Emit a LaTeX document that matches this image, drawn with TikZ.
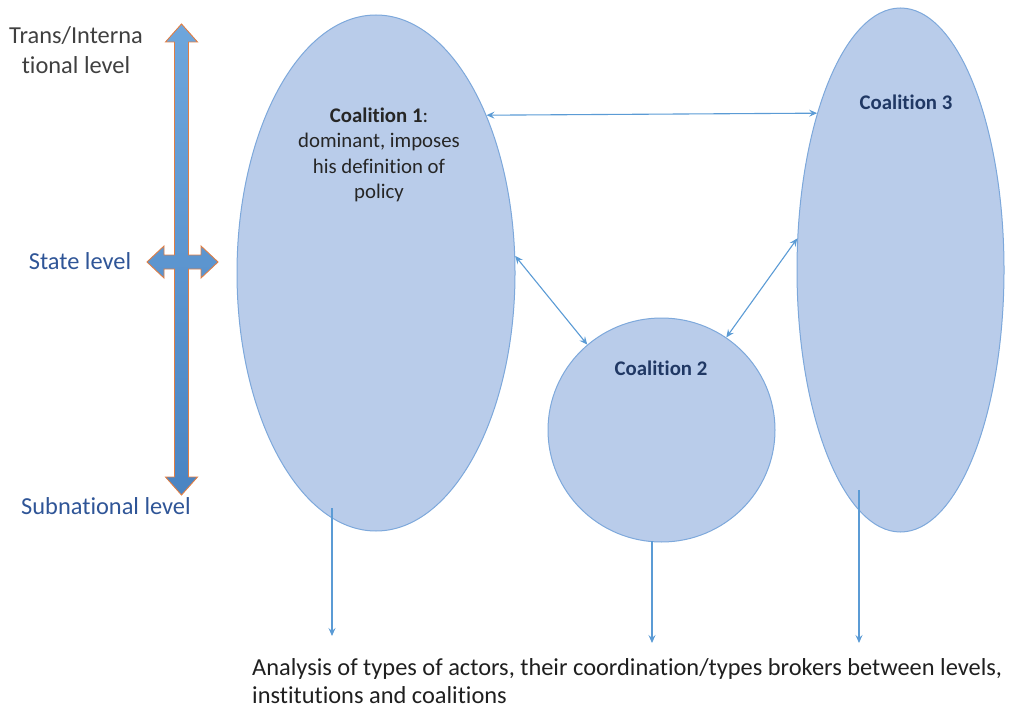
\documentclass[tikz,border=0pt]{standalone}
\usepackage{fontspec}
\setmainfont{Carlito}[Ligatures=NoCommon]
\usetikzlibrary{arrows.meta,shapes.geometric}
\definecolor{ellfill}{HTML}{B9CCEA}
\definecolor{elldraw}{HTML}{7DA8DB}
\definecolor{conn}{HTML}{5B9BD5}
\definecolor{navy}{HTML}{203864}
\definecolor{lvlblue}{HTML}{2F5597}
\definecolor{txtgray}{HTML}{404040}
\definecolor{arrtop}{HTML}{6EA6DC}
\definecolor{arrbot}{HTML}{4A84C2}
\definecolor{arredge}{HTML}{E07E44}
\tikzset{
  coal/.style={ellipse, draw=elldraw, fill=ellfill, line width=1pt, inner sep=0pt},
  lnk/.style={draw=conn, line width=1.1pt, {Stealth[length=8pt,width=7pt,inset=3pt]}-{Stealth[length=8pt,width=7pt,inset=3pt]}},
  down/.style={draw=conn, line width=1.1pt, -{Stealth[length=8pt,width=7pt,inset=3pt]}},
  mainfont/.style={font=\fontsize{20.8}{25.5}\selectfont},
  lvl/.style={font=\fontsize{24.4}{30}\selectfont, text=lvlblue, inner sep=0pt},
}
\begin{document}
\begin{tikzpicture}[x=1pt,y=-1pt]
\useasboundingbox (0,0) rectangle (1019,711);
% coalitions
\node[coal, minimum width=278pt, minimum height=516pt] (c1) at (376,273) {};
\node[coal, minimum width=227pt, minimum height=224pt] (c2) at (661.5,430) {};
\node[coal, minimum width=207pt, minimum height=524pt] (c3) at (900.5,270) {};
% texts in coalitions
\node[mainfont, align=center, text=black!85, inner sep=0pt] (t1) at (379,155) {\textbf{Coalition 1}:\\dominant, imposes\\his definition of\\policy};
\node[mainfont, text=navy, inner sep=0pt] (t2) at (661,368) {\textbf{Coalition 2}};
\node[mainfont, text=navy, inner sep=0pt] (t3) at (906,102) {\textbf{Coalition 3}};
% level arrow (cross)
\shade[top color=arrtop, bottom color=arrbot, draw=arredge, line width=0.9pt]
 (181.5,24) -- (197.5,42) -- (188.5,42) -- (188.5,255) -- (201,255) -- (201,246) -- (218,262)
 -- (201,278) -- (201,269) -- (188.5,269) -- (188.5,477) -- (197.5,477) -- (181.5,495)
 -- (165.5,477) -- (174.5,477) -- (174.5,269) -- (164,269) -- (164,278) -- (147,262)
 -- (164,246) -- (164,255) -- (174.5,255) -- (174.5,42) -- (165.5,42) -- cycle;
% level labels
\node[lvl, text=txtgray, align=center] (l1) at (76,50) {Trans/Interna\\tional level};
\node[lvl] (l2) at (80,261) {State level};
\node[lvl] (l3) at (106,506) {Subnational level};
% links
\draw[lnk] (c1.55) -- (c3.118);
\draw[lnk] (c1.7) -- (c2.131);
\draw[lnk] (c3.163) -- (c2.55);
% down arrows
\coordinate (s1) at (332,508);
\coordinate (e1) at (332,636);
\coordinate (s2) at (652,541);
\coordinate (e2) at (652,643);
\coordinate (s3) at (859,490);
\coordinate (e3) at (859,643);
\draw[down] (s1) -- (e1);
\draw[down] (s2) -- (e2);
\draw[down] (s3) -- (e3);
% bottom text
\node[font=\fontsize{24.4}{27.5}\selectfont, text=black!88, align=left, anchor=west, inner sep=0pt] (bt) at (252,681)
 {Analysis of types of actors, their coordination/types brokers between levels,\\institutions and coalitions};
\end{tikzpicture}
\end{document}
